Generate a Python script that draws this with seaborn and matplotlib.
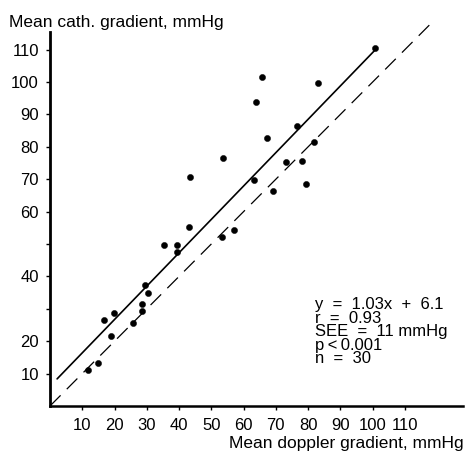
import numpy as np
import pandas as pd
import seaborn as sns
import matplotlib
matplotlib.use("Agg")
import matplotlib.pyplot as plt

# Doppler vs. catheter mean gradients (mmHg)
doppler = [11.7, 14.8, 16.6, 19.7, 19.0, 25.8, 28.6, 28.6, 29.5, 30.5,
           35.4, 39.3, 39.3, 53.3, 57.1, 43.3, 53.6, 43.1, 65.7, 63.8,
           83.0, 76.7, 67.2, 81.8, 73.1, 78.1, 63.1, 69.0, 79.2, 100.7]
cath = [11.2, 13.4, 26.5, 28.8, 21.6, 25.5, 31.5, 29.4, 37.3, 34.8,
        49.7, 49.8, 47.4, 52.3, 54.4, 70.7, 76.4, 55.3, 101.4, 93.7,
        99.6, 86.4, 82.6, 81.6, 75.3, 75.7, 69.7, 66.5, 68.6, 110.4]

slope, intercept = 1.03, 6.1
fit_range = [2.2, 101.0]
identity_range = [0.0, 119.0]

x_ticks = [10, 20, 30, 40, 50, 60, 70, 80, 90, 100, 110]
y_ticks = [10, 20, 30, 40, 50, 60, 70, 80, 90, 100, 110]
y_tick_labels = ["10", "20", "", "40", "", "60", "70", "80", "90", "100", "110"]

stats_lines = ["y  =  1.03x  +  6.1", "r  =  0.93", "SEE  =  11 mmHg",
               "p\u2009<\u20090.001", "n  =  30"]

sns.set_theme(style="ticks")
plt.rcParams["font.family"] = ["Liberation Sans", "DejaVu Sans"]

fig = plt.figure(figsize=(4.70, 4.59), dpi=100)
ax = fig.add_axes([0.1064, 0.1155, 0.8787, 0.847])

df = pd.DataFrame({"doppler": doppler, "cath": cath})
sns.scatterplot(data=df, x="doppler", y="cath", ax=ax, color="black",
                s=20, edgecolor="black", linewidth=0.3, zorder=3)

fit_x = np.array(fit_range)
sns.lineplot(x=fit_x, y=slope * fit_x + intercept, ax=ax, color="black",
             linewidth=1.2)
id_x = np.array(identity_range)
ax.plot(id_x, id_x, color="black", linewidth=0.9, dashes=(12, 7))

ax.set_xlim(0, 128)
ax.set_ylim(0, 120)
ax.spines["top"].set_visible(False)
ax.spines["right"].set_visible(False)
ax.spines["left"].set_bounds(0, 115.5)
ax.spines["left"].set_linewidth(2.0)
ax.spines["bottom"].set_linewidth(1.8)
ax.spines["left"].set_color("black")
ax.spines["bottom"].set_color("black")

ax.set_xticks(x_ticks)
ax.set_yticks(y_ticks)
ax.set_yticklabels(y_tick_labels)
ax.tick_params(axis="both", direction="out", length=3, width=1.0,
               colors="black", labelsize=12)
ax.tick_params(axis="x", pad=6)
ax.tick_params(axis="y", pad=5)

ax.set_xlabel("")
ax.set_ylabel("")
fig.text(0.987, 0.018, "Mean doppler gradient, mmHg", ha="right",
         va="bottom", fontsize=12.5, color="black")
fig.text(0.02, 0.952, "Mean cath. gradient, mmHg", ha="left",
         va="center", fontsize=12.5, color="black")

ax.text(0.642, 0.280, "\n".join(stats_lines), transform=ax.transAxes,
        ha="left", va="top", fontsize=12, linespacing=0.88, color="black")

fig.savefig("out.png", dpi=100)
